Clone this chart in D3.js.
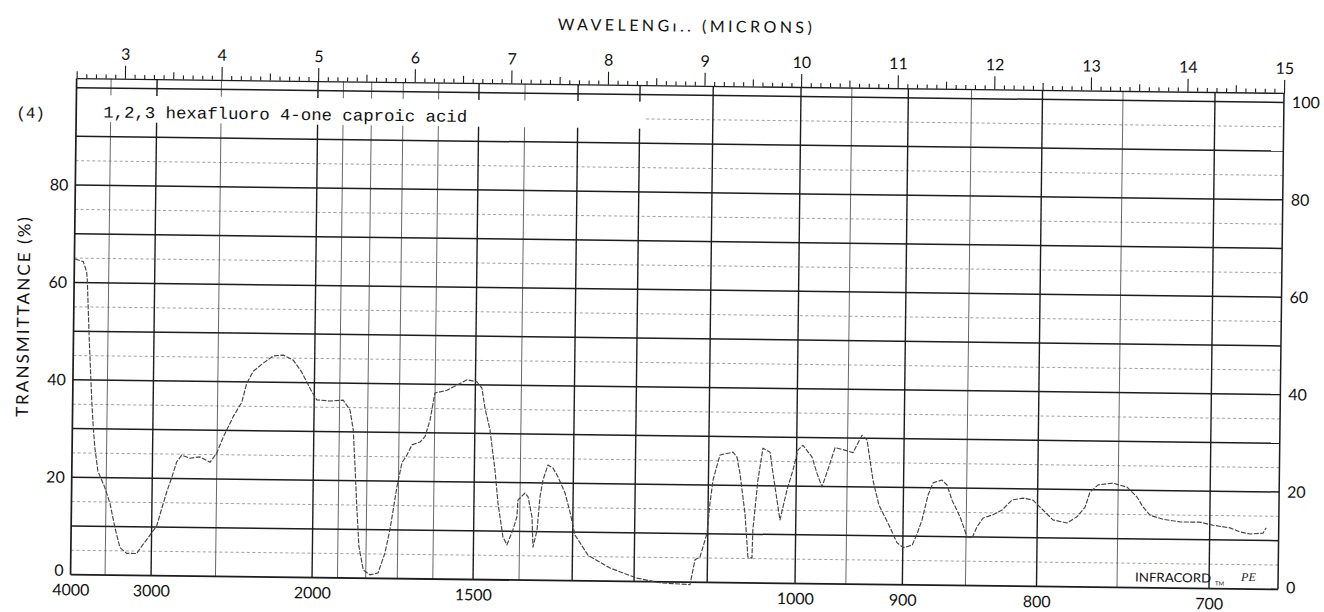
<!DOCTYPE html>
<html><head><meta charset="utf-8">
<script src="https://cdn.jsdelivr.net/npm/d3@7"></script>
<style>
body{margin:0;background:#fff}
svg{display:block}
.lbl{font-family:Lato,"Open Sans",sans-serif;fill:#111}
.mono{font-family:"Liberation Mono","DejaVu Sans Mono",monospace;fill:#111}
</style>
</head><body>
<svg id="c" width="1324" height="612"></svg>
<script>
// ---- data ----
const wavelengthUm = [2.506,2.592,2.628,2.636,2.664,2.697,2.716,2.736,2.770,2.845,2.899,2.953,3.007,3.078,3.181,3.215,
3.385,3.484,3.534,3.584,3.635,3.721,3.825,3.929,3.997,4.063,4.165,4.250,4.299,4.365,4.468,4.570,4.674,4.778,4.866,4.973,
5.026,5.163,5.300,5.372,5.408,5.431,5.454,5.481,5.529,5.599,5.682,5.751,5.800,5.867,5.916,5.967,6.018,6.100,6.151,6.201,
6.249,6.373,6.579,6.682,6.735,6.768,6.823,6.880,6.915,6.971,7.013,7.073,7.113,7.121,7.194,7.226,7.269,7.283,7.323,7.349,
7.378,7.428,7.480,7.533,7.608,7.662,7.716,7.853,8.083,8.363,8.601,8.913,8.962,9.013,9.083,9.110,9.138,9.207,9.342,9.383,
9.416,9.473,9.509,9.551,9.557,9.603,9.651,9.725,9.758,9.836,9.905,9.965,10.013,10.065,10.160,10.213,10.267,10.317,10.398,
10.480,10.584,10.675,10.728,10.794,10.859,10.965,11.051,11.118,11.209,11.261,11.307,11.366,11.416,11.508,11.561,11.615,
11.700,11.775,11.827,11.877,11.938,12.040,12.134,12.236,12.350,12.453,12.558,12.662,12.807,12.910,12.993,13.042,13.124,
13.278,13.425,13.529,13.592,13.666,13.800,13.977,14.184,14.320,14.496,14.600,14.704,14.838,14.870];
const transmittance = [64.8,64.3,62.2,60.5,48.2,35.9,30.4,26.0,21.3,17.9,14.7,9.8,5.7,4.5,4.5,5.5,
10.2,17.2,20.1,23.4,24.8,24.2,24.5,23.4,25.3,28.6,32.9,35.8,39.7,42.2,43.9,45.4,45.6,44.6,42.2,38.2,
36.5,36.3,36.5,34.5,30.4,22.9,14.7,6.5,1.7,0.7,1.1,5.2,10.0,18.8,23.8,25.4,27.5,28.1,29.2,32.6,
38.2,38.8,41.0,40.6,39.3,35.3,30.8,22.5,15.8,8.8,7.2,10.3,13.0,16.4,17.9,17.1,13.0,6.8,10.3,17.1,
20.6,23.7,23.1,21.3,18.0,14.1,9.4,5.3,2.7,0.7,-0.2,-0.5,4.6,5.2,10.1,16.3,21.0,26.2,26.8,25.8,
22.5,14.3,5.3,5.1,10.9,21.1,27.7,26.9,22.6,13.0,19.2,23.3,27.4,28.4,26.0,22.7,19.9,22.9,28.0,
27.6,27.0,30.6,29.6,21.4,16.3,12.2,8.6,7.6,8.2,10.7,13.4,18.5,21.0,21.6,20.6,17.5,
14.1,10.0,9.8,12.1,13.9,14.6,15.6,17.7,18.1,17.7,15.7,13.7,13.1,14.4,16.4,19.5,21.0,
21.4,20.6,18.6,16.6,14.9,14.1,13.6,13.6,13.0,12.5,11.7,11.3,11.5,12.6];

const micronLabels = [3,4,5,6,7,8,9,10,11,12,13,14,15];
const wavenumberLabels = [4000,3000,2000,1500,1000,900,800,700];
const majorGridWavenumbers = [3000,2000,1500,1300,1200,1100,1000,900,800,700];
const minorGridWavenumbers = [3500,2500,1900,1800,1700,1600,1400,950,850,750];
const leftTickLabels = [0,20,40,60,80];
const rightTickLabels = [0,20,40,60,80,100];
const solidGridT = [0,10,20,30,40,50,60,70,80,90,100];
const dottedGridT = [5,15,25,35,45,55,65,75,85];
const partialDottedT = [95];
const titleText = "WAVELENG\u0131.. (MICRONS)";
const yTitle = "TRANSMITTANCE (%)";
const sampleNo = "(4)";
const compoundLabel = "1,2,3 hexafluoro 4-one caproic acid";

// ---- layout ----
const L = 73.5, R = 1281, T = 95, B = 582;
const x = d3.scaleLinear().domain([2.5, 15]).range([L, R]);
const y = d3.scaleLinear().domain([0, 100]).range([B, T]);
const rulerY = T - 9.5;
const wn = w => 1e4 / w;

const svg = d3.select("#c");
const g = svg.append("g").attr("transform", "rotate(0.7,677,338)");

// horizontal grid
g.selectAll(".hd").data(dottedGridT).join("line")
  .attr("x1", L).attr("x2", R).attr("y1", d => y(d)).attr("y2", d => y(d))
  .attr("stroke", "#8a8a8a").attr("stroke-width", 0.8).attr("stroke-dasharray", "3,2.5");
g.selectAll(".hp").data(partialDottedT).join("line")
  .attr("x1", x(8.4)).attr("x2", R).attr("y1", d => y(d)).attr("y2", d => y(d))
  .attr("stroke", "#8a8a8a").attr("stroke-width", 0.8).attr("stroke-dasharray", "3,2.5");

// vertical grid (interrupted in the label band left of ~8.6 um)
function vSegs(w) {
  const l = wn(w);
  if (l < 8.6) return [[rulerY, y(98.5)], [y(93), B]];
  return [[rulerY, B]];
}
const minorSegs = minorGridWavenumbers.flatMap(w => vSegs(w).map(s => ({w, s})));
const majorSegs = majorGridWavenumbers.flatMap(w => vSegs(w).map(s => ({w, s})));
g.selectAll(".vmin").data(minorSegs).join("line")
  .attr("x1", d => x(wn(d.w))).attr("x2", d => x(wn(d.w)))
  .attr("y1", d => d.s[0]).attr("y2", d => d.s[1])
  .attr("stroke", "#555").attr("stroke-width", 0.9);
g.selectAll(".vmaj").data(majorSegs).join("line")
  .attr("x1", d => x(wn(d.w))).attr("x2", d => x(wn(d.w)))
  .attr("y1", d => d.s[0]).attr("y2", d => d.s[1])
  .attr("stroke", "#1c1c1c").attr("stroke-width", 1.4);

g.selectAll(".hs").data(solidGridT).join("line")
  .attr("x1", L).attr("x2", R).attr("y1", d => y(d)).attr("y2", d => y(d))
  .attr("stroke", "#1c1c1c").attr("stroke-width", d => d === 0 ? 1.8 : 1.5);

// borders
g.append("line").attr("x1", L).attr("x2", L).attr("y1", rulerY).attr("y2", B)
  .attr("stroke", "#1c1c1c").attr("stroke-width", 1.7);
g.append("line").attr("x1", R).attr("x2", R).attr("y1", rulerY).attr("y2", B)
  .attr("stroke", "#1c1c1c").attr("stroke-width", 1.5);

// top wavelength ruler
const ruler = g.append("g").attr("transform", `translate(0,${rulerY})`);
const minorT = d3.range(25, 151).map(d => d / 10).filter(d => Math.abs(d * 2 - Math.round(d * 2)) > 1e-6);
const midT = d3.range(5, 31).map(d => d / 2).filter(d => !Number.isInteger(d));
ruler.append("g").call(d3.axisTop(x).tickValues(minorT).tickSize(4).tickFormat("").tickSizeOuter(0))
  .call(s => s.select(".domain").remove());
ruler.append("g").call(d3.axisTop(x).tickValues(midT).tickSize(7).tickFormat("").tickSizeOuter(0))
  .call(s => s.select(".domain").remove());
ruler.append("g").call(d3.axisTop(x).tickValues(micronLabels).tickSize(13).tickPadding(6).tickSizeOuter(0))
  .call(s => s.selectAll("text").attr("class", "lbl").attr("font-size", 16).attr("fill", "#111"));
ruler.selectAll("line").attr("stroke", "#1c1c1c").attr("stroke-width", 1.1);
ruler.selectAll(".domain").attr("stroke", "#1c1c1c").attr("stroke-width", 1.3);

// bottom wavenumber labels
g.append("g").attr("transform", `translate(0,${B})`)
  .call(d3.axisBottom(x).tickValues(wavenumberLabels.map(wn)).tickFormat(l => Math.round(wn(l)))
    .tickSize(0).tickPadding(9.5))
  .call(s => s.select(".domain").remove())
  .call(s => s.selectAll("text").attr("class", "lbl").attr("font-size", 16).attr("fill", "#111"));

// left / right transmittance labels (the 0 labels sit a little above the base line)
g.append("g").attr("transform", `translate(${L},0)`)
  .call(d3.axisLeft(y).tickValues(leftTickLabels).tickSize(0).tickPadding(7))
  .call(s => s.select(".domain").remove())
  .call(s => s.selectAll("text").attr("class", "lbl").attr("font-size", 16).attr("fill", "#111")
    .attr("dy", d => d === 0 ? "0.05em" : "0.32em"));
g.append("g").attr("transform", `translate(${R},0)`)
  .call(d3.axisRight(y).tickValues(rightTickLabels).tickSize(0).tickPadding(8))
  .call(s => s.select(".domain").remove())
  .call(s => s.selectAll("text").attr("class", "lbl").attr("font-size", 16).attr("fill", "#111")
    .attr("dy", d => d === 0 ? "0.2em" : "0.32em"));

// titles
g.append("text").attr("class", "lbl").attr("x", 681).attr("y", 31.5)
  .attr("text-anchor", "middle").attr("font-size", 16).attr("textLength", 254)
  .attr("lengthAdjust", "spacing").text(titleText);
g.append("text").attr("class", "lbl").attr("transform", "translate(29,325) rotate(-90)")
  .attr("text-anchor", "middle").attr("font-size", 17).attr("textLength", 200)
  .attr("lengthAdjust", "spacing").text(yTitle);
g.append("text").attr("class", "mono").attr("x", 13.5).attr("y", 126)
  .attr("font-size", 16).text(sampleNo);
g.append("text").attr("class", "mono").attr("x", 100.5).attr("y", 124.5)
  .attr("font-size", 16.5).attr("textLength", 364).attr("lengthAdjust", "spacingAndGlyphs")
  .text(compoundLabel);

// instrument mark
g.append("text").attr("class", "lbl").attr("x", 1138).attr("y", B - 6)
  .attr("font-size", 12.5).attr("textLength", 76).attr("lengthAdjust", "spacingAndGlyphs").text("INFRACORD");
g.append("text").attr("class", "lbl").attr("x", 1218).attr("y", B - 3)
  .attr("font-size", 6).text("TM");
g.append("text").attr("x", 1244).attr("y", B - 8)
  .attr("font-family", "'Liberation Serif',serif").attr("font-style", "italic")
  .attr("font-size", 12).attr("fill", "#222").text("PE");

// spectrum trace (thin, broken pencil-like line as in the scan)
const pts = wavelengthUm.map((l, i) => [l, transmittance[i]]);
g.append("path").datum(pts)
  .attr("fill", "none").attr("stroke", "#444").attr("stroke-width", 1.15)
  .attr("stroke-linejoin", "round").attr("stroke-dasharray", "5,1.5")
  .attr("d", d3.line().x(d => x(d[0])).y(d => y(d[1])).curve(d3.curveLinear));
</script>
</body></html>
